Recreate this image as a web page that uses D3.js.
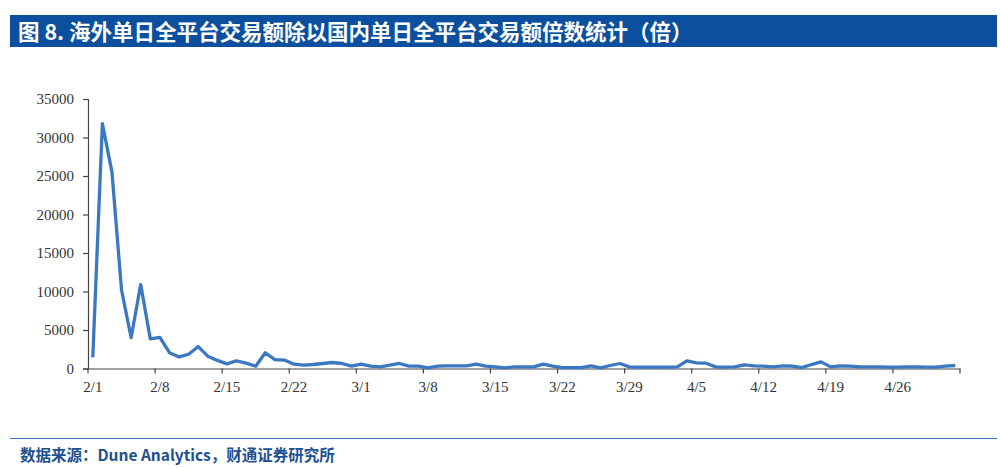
<!DOCTYPE html>
<html><head><meta charset="utf-8">
<script src="https://cdn.jsdelivr.net/npm/d3@7"></script>
<style>
html,body{margin:0;padding:0;background:#fff;}
svg{display:block;}
</style></head>
<body>
<svg id="c" width="1000" height="469"></svg>
<script>
const categories = ["2/1","2/2","2/3","2/4","2/5","2/6","2/7","2/8","2/9","2/10","2/11","2/12","2/13","2/14","2/15","2/16","2/17","2/18","2/19","2/20","2/21","2/22","2/23","2/24","2/25","2/26","2/27","2/28","3/1","3/2","3/3","3/4","3/5","3/6","3/7","3/8","3/9","3/10","3/11","3/12","3/13","3/14","3/15","3/16","3/17","3/18","3/19","3/20","3/21","3/22","3/23","3/24","3/25","3/26","3/27","3/28","3/29","3/30","3/31","4/1","4/2","4/3","4/4","4/5","4/6","4/7","4/8","4/9","4/10","4/11","4/12","4/13","4/14","4/15","4/16","4/17","4/18","4/19","4/20","4/21","4/22","4/23","4/24","4/25","4/26","4/27","4/28","4/29","4/30","5/1","5/2"];
const ratio = [1450,31800,25500,10200,4000,10900,3850,4050,2050,1500,1850,2850,1600,1050,600,1000,700,300,2050,1150,1100,560,430,520,650,780,650,300,560,300,210,430,650,300,300,80,300,340,340,340,560,300,210,80,210,210,210,560,300,120,120,120,340,80,390,650,210,170,170,170,170,210,990,730,690,210,170,210,470,340,300,210,340,300,120,515,860,210,340,300,210,210,210,170,170,210,210,170,170,300,390];
const xTickLabels = ["2/1","2/8","2/15","2/22","3/1","3/8","3/15","3/22","3/29","4/5","4/12","4/19","4/26"];
const yTicks = [0,5000,10000,15000,20000,25000,30000,35000];
const titleText = "图 8. 海外单日全平台交易额除以国内单日全平台交易额倍数统计（倍）";
const sourceText = "数据来源：Dune Analytics，财通证券研究所";

const svg = d3.select("#c");
const L = 88, R = 960, T = 99, B = 368.5;

// title bar
svg.append("rect").attr("x",10).attr("y",15).attr("width",987).attr("height",32).attr("fill","#0b4f9e");
svg.append("text").attr("x",18).attr("y",39.5).attr("fill","#fff")
  .attr("font-family","'Noto Sans CJK SC','Noto Sans',sans-serif").attr("font-weight","bold")
  .attr("font-size",21.5).text(titleText);

// footer
svg.append("line").attr("x1",10).attr("x2",997).attr("y1",438.5).attr("y2",438.5)
  .attr("stroke","#3d72b8").attr("stroke-width",1.2);
svg.append("text").attr("x",20).attr("y",461).attr("fill","#1d4f91")
  .attr("font-family","'Noto Sans CJK SC','Noto Sans',sans-serif").attr("font-weight","bold")
  .attr("font-size",15.5).text(sourceText);

const x = d3.scaleBand().domain(categories).range([L,R]).padding(0);
const y = d3.scaleLinear().domain([0,35000]).range([B,T]);

// y axis
const yAxis = svg.append("g").attr("transform",`translate(${L},0)`)
  .call(d3.axisLeft(y).tickValues(yTicks).tickSize(5).tickPadding(9).tickFormat(d3.format("d")));
yAxis.select(".domain").attr("stroke","#444").attr("stroke-width",1.2);
yAxis.selectAll(".tick line").attr("stroke","#444").attr("stroke-width",1.2);
yAxis.selectAll("text").attr("font-family","'Liberation Serif','Times New Roman',serif")
  .attr("font-size",15).attr("fill","#333");

// x axis
const xAxis = svg.append("g").attr("transform",`translate(0,${B})`)
  .call(d3.axisBottom(x).tickValues(xTickLabels).tickSize(0).tickPadding(13));
xAxis.select(".domain").attr("stroke","#444").attr("stroke-width",1.2);
xAxis.selectAll("text").attr("font-family","'Liberation Serif','Times New Roman',serif")
  .attr("font-size",15).attr("fill","#333");
const boundaries = categories.filter((d,i)=>i%7===0).map(d=>x(d)).concat([R]);
svg.append("g").selectAll("line").data(boundaries).join("line")
  .attr("x1",d=>d).attr("x2",d=>d).attr("y1",B).attr("y2",B+5)
  .attr("stroke","#444").attr("stroke-width",1.2);

// line
const line = d3.line().x((d,i)=>x(categories[i])+x.bandwidth()/2).y(d=>y(d));
svg.append("path").datum(ratio).attr("d",line).attr("fill","none")
  .attr("stroke","#3b78c2").attr("stroke-width",3.3).attr("stroke-linejoin","round");
</script>
</body></html>
